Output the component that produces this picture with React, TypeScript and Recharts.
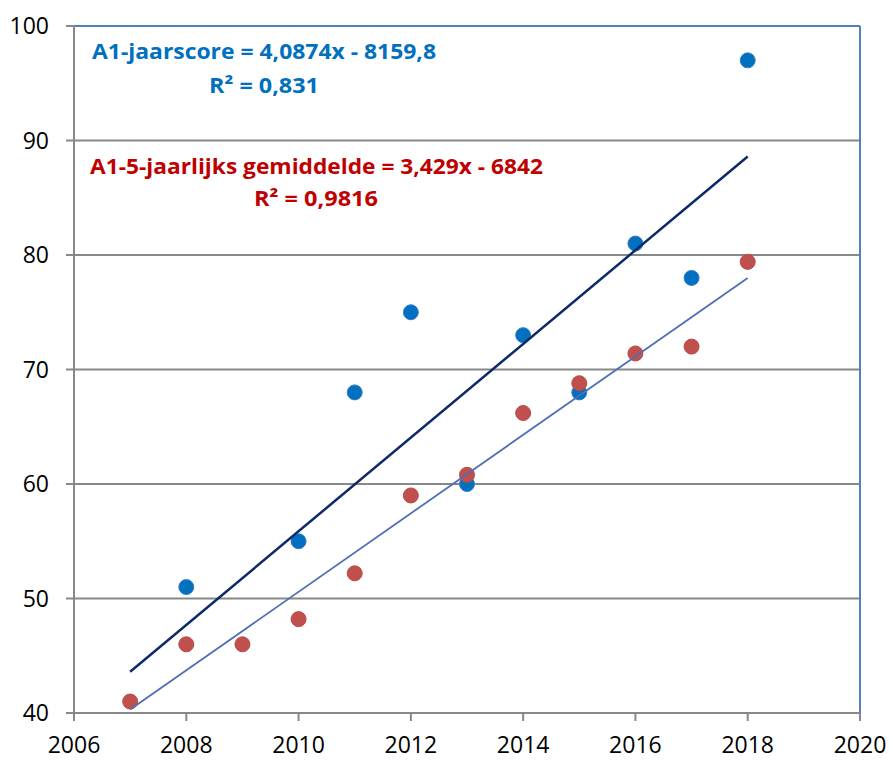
import { ScatterChart, Scatter, XAxis, YAxis, CartesianGrid, ReferenceLine, Customized } from 'recharts';

// A1 yearly score (blue dots)
const jaarYears = [2008, 2010, 2011, 2012, 2013, 2014, 2015, 2016, 2017, 2018];
const jaarScores = [51, 55, 68, 75, 60, 73, 68, 81, 78, 97];

// A1 5-year average (red dots)
const gemYears = [2007, 2008, 2009, 2010, 2011, 2012, 2013, 2014, 2015, 2016, 2017, 2018];
const gemScores = [41, 46, 46, 48.2, 52.2, 59, 60.8, 66.2, 68.8, 71.4, 72, 79.4];

// trendline end points
const trendYears = [2007, 2018];
const jaarTrend = [43.6, 88.6];
const gemTrend = [40.3, 78.0];

const xTicks = [2006, 2008, 2010, 2012, 2014, 2016, 2018, 2020];
const yTicks = [40, 50, 60, 70, 80, 90, 100];

const toPoints = (xs: number[], ys: number[]) => xs.map((x, i) => ({ x, y: ys[i] }));

const jaarData = toPoints(jaarYears, jaarScores);
const gemData = toPoints(gemYears, gemScores);
const jaarTrendData = toPoints(trendYears, jaarTrend);
const gemTrendData = toPoints(trendYears, gemTrend);

const FONT = 'Open Sans, Liberation Sans, sans-serif';

const dot = (fill: string, stroke: string) => (props: any) => (
  <circle cx={props.cx} cy={props.cy} r={7.5} fill={fill} stroke={stroke} strokeWidth={1} />
);

const noDot = () => <g />;

function Annotations() {
  const common = { fontFamily: FONT, fontWeight: 700, fontSize: 21, lengthAdjust: 'spacingAndGlyphs' as const };
  return (
    <g>
      <text x={92} y={59} fill="#0070C0" textLength={344} {...common}>A1-jaarscore = 4,0874x - 8159,8</text>
      <text x={209} y={93} fill="#0070C0" textLength={110} {...common}>R² = 0,831</text>
      <text x={90} y={174} fill="#C00000" textLength={453} {...common}>A1-5-jaarlijks gemiddelde = 3,429x - 6842</text>
      <text x={254} y={206} fill="#C00000" textLength={124} {...common}>R² = 0,9816</text>
    </g>
  );
}

export default function App() {
  return (
    <div style={{ position: 'absolute', left: 0, top: 0, background: '#fff' }}>
      <ScatterChart width={890} height={761} margin={{ top: 26, right: 30, left: 0, bottom: 0 }}>
        <CartesianGrid vertical={false} stroke="#888888" strokeWidth={2} />
        <XAxis
          type="number"
          dataKey="x"
          domain={[2006, 2020]}
          ticks={xTicks}
          interval={0}
          height={48}
          tickSize={8}
          tickMargin={16}
          stroke="#888888"
          strokeWidth={2}
          tick={{ fill: '#000', fontSize: 23, fontFamily: FONT }}
        />
        <YAxis
          type="number"
          dataKey="y"
          domain={[40, 100]}
          ticks={yTicks}
          interval={0}
          width={74}
          tickSize={8}
          tickMargin={17}
          stroke="#888888"
          strokeWidth={2}
          tick={{ fill: '#000', fontSize: 23, fontFamily: FONT }}
        />
        <ReferenceLine y={100} stroke="#4F81BD" strokeWidth={2} />
        <ReferenceLine x={2020} stroke="#4F81BD" strokeWidth={2} />
        <Scatter data={jaarData} shape={dot('#0070C0', '#3C7CC4')} isAnimationActive={false} />
        <Scatter data={gemData} shape={dot('#C0504D', '#B94A47')} isAnimationActive={false} />
        <Scatter
          data={jaarTrendData}
          line={{ stroke: '#0B2A66', strokeWidth: 2.5 }}
          shape={noDot}
          isAnimationActive={false}
        />
        <Scatter
          data={gemTrendData}
          line={{ stroke: '#4F6FB5', strokeWidth: 1.8 }}
          shape={noDot}
          isAnimationActive={false}
        />
        <Customized component={Annotations} />
      </ScatterChart>
    </div>
  );
}
